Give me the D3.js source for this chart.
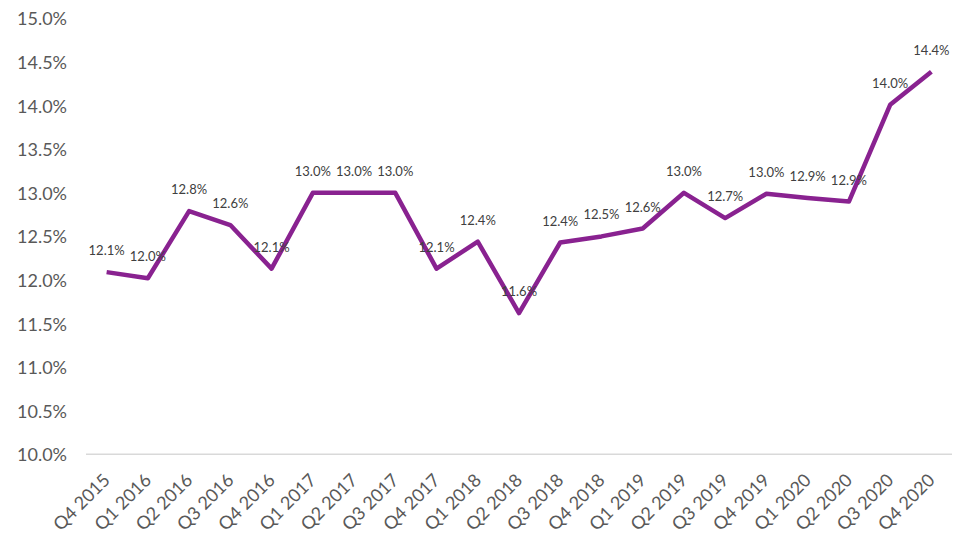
<!DOCTYPE html>
<html><head><meta charset="utf-8">
<script src="https://cdn.jsdelivr.net/npm/d3@7"></script>
<style>body{margin:0;background:#fff;}svg{display:block;font-family:Lato,"Open Sans",sans-serif;}</style>
</head><body><svg id="c" width="976" height="549"></svg>
<script>
const categories = ["Q4 2015","Q1 2016","Q2 2016","Q3 2016","Q4 2016","Q1 2017","Q2 2017","Q3 2017","Q4 2017","Q1 2018","Q2 2018","Q3 2018","Q4 2018","Q1 2019","Q2 2019","Q3 2019","Q4 2019","Q1 2020","Q2 2020","Q3 2020","Q4 2020"];
const values = [12.09,12.02,12.79,12.63,12.13,13.0,13.0,13.0,12.13,12.44,11.62,12.43,12.50,12.59,13.0,12.71,12.99,12.94,12.90,14.01,14.39];
const yTicks = [10.0,10.5,11.0,11.5,12.0,12.5,13.0,13.5,14.0,14.5,15.0];

(function(){
const svg = d3.select("#c");
const mLeft = 86, mRight = 952, mTop = 18.5, mBottom = 454.3;
const x = d3.scalePoint().domain(categories).range([mLeft, mRight]).padding(0.5);
const y = d3.scaleLinear().domain([10, 15]).range([mBottom, mTop]);

// y axis labels
const yAxis = d3.axisLeft(y).tickValues(yTicks).tickFormat(d => d3.format(".1f")(d) + "%").tickSize(0).tickPadding(0);
const gy = svg.append("g").attr("transform", "translate(67,0)").call(yAxis);
gy.select(".domain").remove();
gy.selectAll("text").attr("font-size", 18).attr("fill", "#595959").attr("font-family", "Lato").attr("dy", "0.36em");

// x axis
const xAxis = d3.axisBottom(x).tickSize(0).tickPadding(0);
const gx = svg.append("g").attr("transform", `translate(0,${mBottom})`).call(xAxis);
gx.select(".domain").attr("stroke", "#d9d9d9").attr("stroke-width", 1.5).attr("d", `M${mLeft},0H${mRight}`);
gx.selectAll("text")
  .attr("font-size", 18).attr("fill", "#595959").attr("font-family", "Lato")
  .attr("text-anchor", "end").attr("dy", null).attr("y", 0)
  .attr("transform", "translate(4,27) rotate(-45)");

// line
const line = d3.line().x((d, i) => x(categories[i])).y(d => y(d));
svg.append("path").datum(values).attr("d", line)
  .attr("fill", "none").attr("stroke", "#892290").attr("stroke-width", 4.5)
  .attr("stroke-linejoin", "round").attr("stroke-linecap", "butt");

// data labels
svg.append("g").selectAll("text").data(values).join("text")
  .attr("x", (d, i) => x(categories[i]))
  .attr("y", d => y(d) - 17)
  .attr("text-anchor", "middle")
  .attr("font-size", 13).attr("fill", "#404040").attr("font-family", "Lato")
  .text(d => d3.format(".1f")(d) + "%");
})();
</script></body></html>
